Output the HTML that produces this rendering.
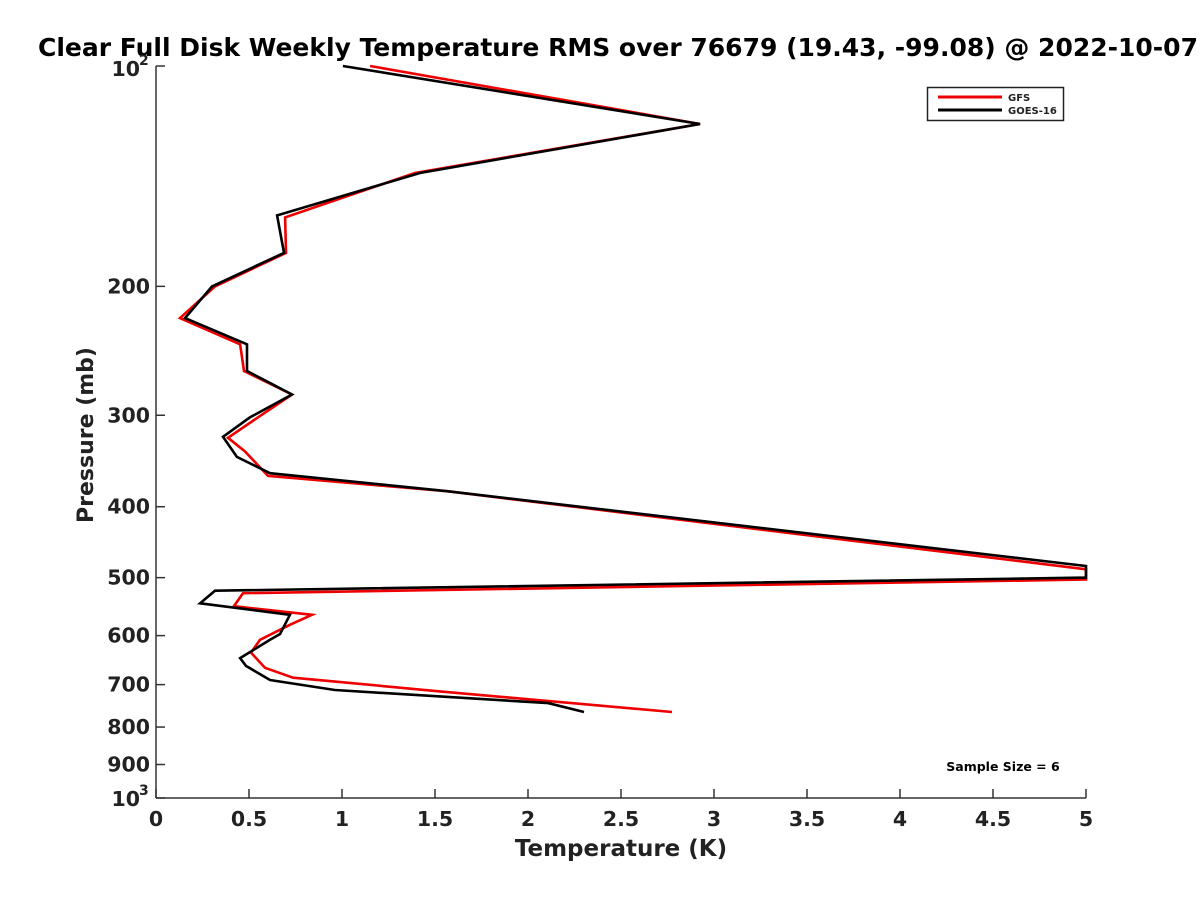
<!DOCTYPE html>
<html><head><meta charset="utf-8"><style>
body{margin:0;background:#fff;overflow:hidden;}
svg{display:block;font-family:"DejaVu Sans","Liberation Sans",sans-serif;}
</style></head><body>
<svg id="chart" width="1200" height="900" viewBox="0 0 1200 900">
<text x="38" y="56" font-size="25" font-weight="bold" fill="#000">Clear Full Disk Weekly Temperature RMS over 76679 (19.43, -99.08) @ 2022-10-07</text>
<g id="axes"></g>
<g id="series"></g>
<g>
<rect x="927.5" y="87.5" width="136" height="33" fill="#fff" stroke="#222" stroke-width="1.5"/>
<line x1="938" y1="97" x2="1002" y2="97" stroke="#e00" stroke-width="3"/>
<text x="1008" y="101" font-size="10" font-weight="bold" fill="#222">GFS</text>
<line x1="938" y1="110" x2="1002" y2="110" stroke="#000" stroke-width="3"/>
<text x="1008" y="114" font-size="10" font-weight="bold" fill="#222">GOES-16</text>
</g>
<text x="1003" y="771" text-anchor="middle" font-size="12.5" font-weight="bold" fill="#000">Sample Size = 6</text>
<text x="621" y="856" text-anchor="middle" font-size="23" font-weight="bold" fill="#222">Temperature (K)</text>
<text transform="translate(93,435) rotate(-90)" text-anchor="middle" font-size="22" font-weight="bold" fill="#222">Pressure (mb)</text>
</svg>
<script>
const xTicks = [0,0.5,1,1.5,2,2.5,3,3.5,4,4.5,5];
const xTickLabels = ["0","0.5","1","1.5","2","2.5","3","3.5","4","4.5","5"];
const yTicks = [100,200,300,400,500,600,700,800,900,1000];
const yTickLabels = ["","200","300","400","500","600","700","800","900",""];
const gfsPressure = [100,120,140,161,180,200,221,240,261,281,302,322,336,363,381,487,503,525,547,562,580,608,633,664,685,715,763];
const gfsTemp = [1.151,2.925,1.392,0.694,0.699,0.317,0.129,0.452,0.473,0.731,0.548,0.387,0.478,0.602,1.565,5,5,0.468,0.419,0.839,0.72,0.559,0.511,0.586,0.737,1.527,2.774];
const goesPressure = [100,120,140,160,180,200,221,240,261,281,302,321,342,360,381,482,500,521,542,562,597,608,644,660,690,712,742,763];
const goesTemp = [1.005,2.925,1.419,0.651,0.688,0.301,0.156,0.489,0.489,0.731,0.505,0.36,0.435,0.613,1.565,5,5,0.317,0.237,0.72,0.667,0.613,0.452,0.484,0.613,0.962,2.108,2.301];

const L=156,R=1086,T=66,B=798;
const xs=v=>L+(v-0)/(5-0)*(R-L);
const ys=p=>T+(Math.log10(p)-2)/(3-2)*(B-T);
const NS="http://www.w3.org/2000/svg";
function mk(tag,attrs,parent){const e=document.createElementNS(NS,tag);for(const k in attrs)e.setAttribute(k,attrs[k]);parent.appendChild(e);return e;}
const ax=document.getElementById('axes');
let e=mk('line',{x1:L,y1:T,x2:L,y2:B,stroke:'#333','stroke-width':1.5},ax);


e=mk('line',{x1:L,y1:B,x2:R,y2:B,stroke:'#333','stroke-width':1.5},ax);


xTicks.forEach((v,i)=>{
 const t=mk('line',{x1:xs(v),y1:B,x2:xs(v),y2:B-9,stroke:'#333','stroke-width':1.5},ax);
 
 
 const l=mk('text',{x:xs(v),y:B+28,'text-anchor':'middle','font-size':20.5,'font-weight':'bold',fill:'#222'},ax);
 l.textContent=xTickLabels[i];
 
 
});
yTicks.forEach((p,i)=>{
 const t=mk('line',{x1:L,y1:ys(p),x2:L+9,y2:ys(p),stroke:'#333','stroke-width':1.5},ax);
 
 
 if(yTickLabels[i]){
  const l=mk('text',{x:L-6,y:ys(p)+7,'text-anchor':'end','font-size':20.5,'font-weight':'bold',fill:'#222'},ax);
  l.textContent=yTickLabels[i];
  
  
 }
});
[[100,'2'],[1000,'3']].forEach(([p,s])=>{
 const l=mk('text',{x:L-16,y:ys(p)+(p==100?10:8),'text-anchor':'end','font-size':20.5,'font-weight':'bold',fill:'#222'},ax);
 l.textContent='10';
 
 
 const s2=mk('text',{x:L-17,y:ys(p)+(p==100?-1:-3),'font-size':14,'font-weight':'bold',fill:'#222'},ax);
 s2.textContent=s;
 
 
});
const sg=document.getElementById('series');
function draw(P,V,color,name){
 const pts=P.map((p,i)=>xs(V[i]).toFixed(1)+','+ys(p).toFixed(1)).join(' ');
 const pl=mk('polyline',{points:pts,fill:'none',stroke:color,'stroke-width':2.6,'stroke-linejoin':'miter'},sg);
 
 
}
draw(gfsPressure,gfsTemp,'#e00','gfs-line');
draw(goesPressure,goesTemp,'#000','goes16-line');
</script>
</body></html>
